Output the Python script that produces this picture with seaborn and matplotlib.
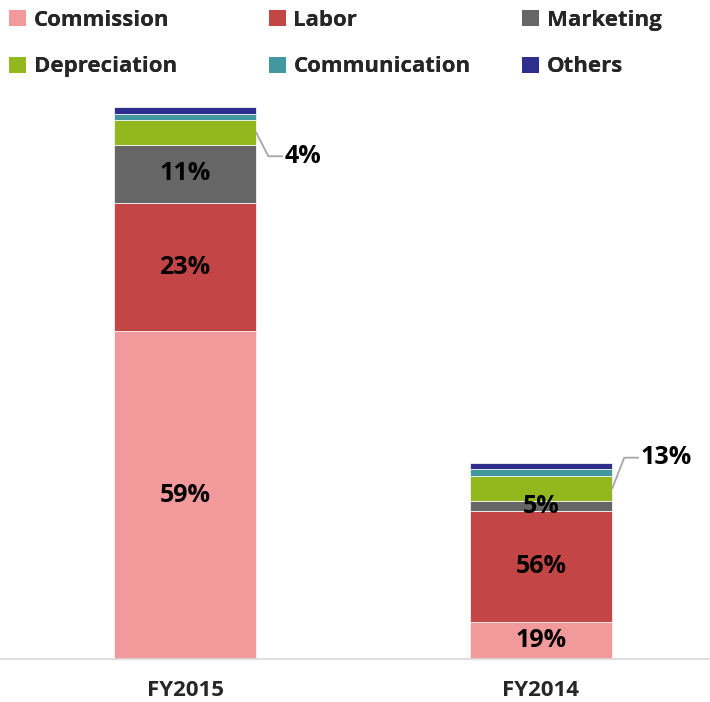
import matplotlib
matplotlib.use("Agg")
import matplotlib.pyplot as plt
import seaborn as sns
import numpy as np
from matplotlib.patches import Patch

# ---- data (FY2015 total = 100) ----
years = ["FY2015", "FY2014"]
categories = ["Commission", "Labor", "Marketing", "Depreciation", "Communication", "Others"]
fy2015 = [59.4, 23.2, 10.6, 4.4, 1.2, 1.2]
fy2014 = [6.8, 20.0, 1.8, 4.6, 1.3, 1.1]
labels_2015 = ["59%", "23%", "11%", "4%", "", ""]
labels_2014 = ["19%", "56%", "5%", "13%", "", ""]
colors = ["#F2999B", "#C44545", "#666666", "#93B81D", "#43979F", "#2E2E8F"]

sns.set_theme(style="white")
plt.rcParams["font.family"] = ["Open Sans", "DejaVu Sans"]

fig = plt.figure(figsize=(7.1, 7.02), dpi=100)
ax = fig.add_axes([0.0, 0.061, 1.0, 0.81])

vals = np.array([fy2015, fy2014])
bottom = np.zeros(2)
for i, cat in enumerate(categories):
    sns.barplot(x=years, y=vals[:, i], bottom=bottom, color=colors[i],
                width=0.4, ax=ax, edgecolor="#f4f4f4", linewidth=0.6,
                saturation=1)
    bottom = bottom + vals[:, i]

# labels inside segments
for j, labs in enumerate([labels_2015, labels_2014]):
    cum = 0
    for i, lab in enumerate(labs):
        v = vals[j, i]
        if lab and i != 3:
            ax.text(j, cum + v / 2, lab, ha="center", va="center",
                    fontsize=18, fontweight="bold", color="black")
        cum += v

# callouts for depreciation
for j, labs in enumerate([labels_2015, labels_2014]):
    dep_mid = vals[j, :3].sum() + vals[j, 3] / 2
    x0 = j + 0.2
    ty = dep_mid - 4.3 if j == 0 else dep_mid + 5.6
    ax.plot([x0, x0 + 0.034, x0 + 0.073], [dep_mid, ty, ty],
            color="#a6a6a6", lw=1.3, clip_on=False)
    ax.text(x0 + 0.08, ty, labs[3], ha="left", va="center",
            fontsize=18, fontweight="bold", color="black")

ax.set_xlim(-0.52, 1.475)
ax.set_ylim(0, 103.0)
ax.set_yticks([])
ax.set_ylabel("")
ax.set_xlabel("")
for s in ["top", "right", "left"]:
    ax.spines[s].set_visible(False)
ax.spines["bottom"].set_color("#d9d9d9")
ax.spines["bottom"].set_linewidth(1.2)
ax.tick_params(axis="x", length=0, pad=15)
for t in ax.get_xticklabels():
    t.set_fontsize(16)
    t.set_fontweight("bold")

# legend: three separate columns, two rows each
col_x = [-0.009, 0.357, 0.714]
for c in range(3):
    idx = [c, c + 3]
    handles = [Patch(facecolor=colors[k], edgecolor="none") for k in idx]
    leg = fig.legend(handles, [categories[k] for k in idx], ncol=1,
                     loc="upper left", bbox_to_anchor=(col_x[c], 1.008),
                     frameon=False, prop={"size": 16, "weight": "bold"},
                     handlelength=0.75, handleheight=0.75, handletextpad=0.35,
                     labelspacing=1.15, borderpad=0.2)
    fig.add_artist(leg)

fig.savefig("out.png", dpi=100)
